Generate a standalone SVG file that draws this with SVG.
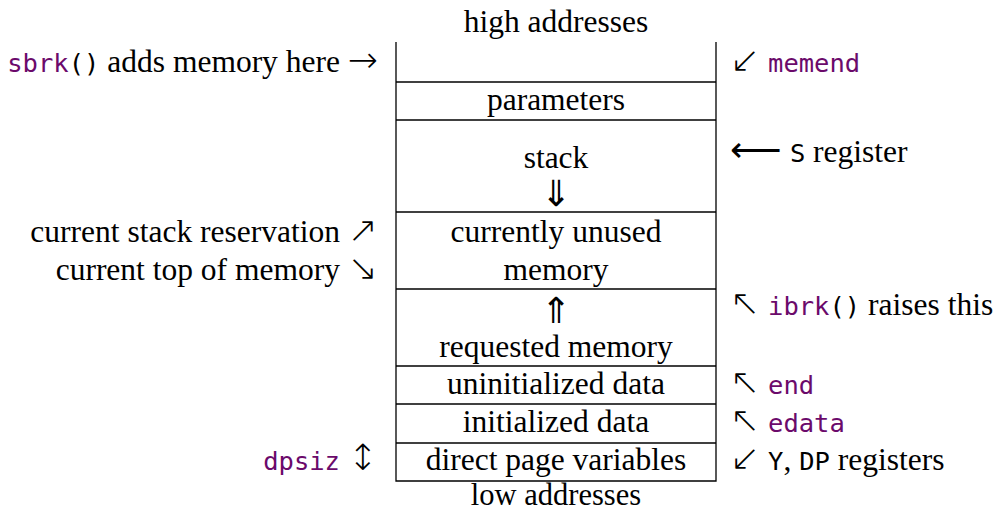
<svg xmlns="http://www.w3.org/2000/svg" width="997" height="511" viewBox="0 0 997 511">
<style>
.t{font-family:"Liberation Serif","DejaVu Serif",serif;font-size:31.5px;fill:#000}
.c{text-anchor:middle}
.r{text-anchor:end}
.m{font-family:"DejaVu Sans Mono","Liberation Mono",monospace;font-size:25.5px}
.p{fill:#6b0a6b}
.a{font-family:"DejaVu Sans",sans-serif;font-size:36px;font-weight:200}
.ln{stroke:#000;stroke-width:1.3;fill:none}
</style>
<rect width="997" height="511" fill="#fff"/>
<g id="frame">
<path class="ln" d="M396,42 V481 H716 V42"/>
</g>
<g id="connectors">
<line class="ln" x1="396" y1="82" x2="716" y2="82"/>
<line class="ln" x1="396" y1="120" x2="716" y2="120"/>
<line class="ln" x1="396" y1="212" x2="716" y2="212"/>
<line class="ln" x1="396" y1="289" x2="716" y2="289"/>
<line class="ln" x1="396" y1="366" x2="716" y2="366"/>
<line class="ln" x1="396" y1="404" x2="716" y2="404"/>
<line class="ln" x1="396" y1="443" x2="716" y2="443"/>
</g>
<g id="high"><text class="t c" x="556" y="32">high addresses</text></g>
<g id="parameters"><text class="t c" x="556" y="110">parameters</text></g>
<g id="stack"><text class="t c" x="556" y="168">stack</text><text class="t c a" x="556" y="206">⇓</text></g>
<g id="unused"><text class="t c" x="556" y="242">currently unused</text><text class="t c" x="556" y="280">memory</text></g>
<g id="requested"><text class="t c a" x="556" y="323">⇑</text><text class="t c" x="556" y="357">requested memory</text></g>
<g id="bss"><text class="t c" x="556" y="394">uninitialized data</text></g>
<g id="data"><text class="t c" x="556" y="432">initialized data</text></g>
<g id="dp"><text class="t c" x="556" y="470">direct page variables</text></g>
<g id="low"><text class="t c" x="556" y="505" style="font-size:30.5px">low addresses</text></g>

<g id="sbrk"><text class="t r" x="378" y="72"><tspan class="m p">sbrk</tspan><tspan class="m">()</tspan> adds memory here <tspan class="a">→</tspan></text></g>
<g id="reservation"><text class="t r" x="378" y="242">current stack reservation <tspan class="a">↗</tspan></text></g>
<g id="topmem"><text class="t r" x="378" y="280">current top of memory <tspan class="a">↘</tspan></text></g>
<g id="dpsiz"><text class="t r" x="378" y="470"><tspan class="m p">dpsiz</tspan> <tspan class="a">↕</tspan></text></g>

<g id="memend"><text class="t" x="730" y="72"><tspan class="a">↙</tspan> <tspan class="m p">memend</tspan></text></g>
<g id="sreg"><text class="t" x="730" y="162"><tspan class="a">⟵</tspan> <tspan class="m">S</tspan> register</text></g>
<g id="ibrk"><text class="t" x="730" y="315"><tspan class="a">↖</tspan> <tspan class="m p">ibrk</tspan><tspan class="m">()</tspan> raises this</text></g>
<g id="end"><text class="t" x="730" y="394"><tspan class="a">↖</tspan> <tspan class="m p">end</tspan></text></g>
<g id="edata"><text class="t" x="730" y="432"><tspan class="a">↖</tspan> <tspan class="m p">edata</tspan></text></g>
<g id="yreg"><text class="t" x="730" y="470"><tspan class="a">↙</tspan> <tspan class="m">Y</tspan>, <tspan class="m">DP</tspan> registers</text></g>
</svg>
